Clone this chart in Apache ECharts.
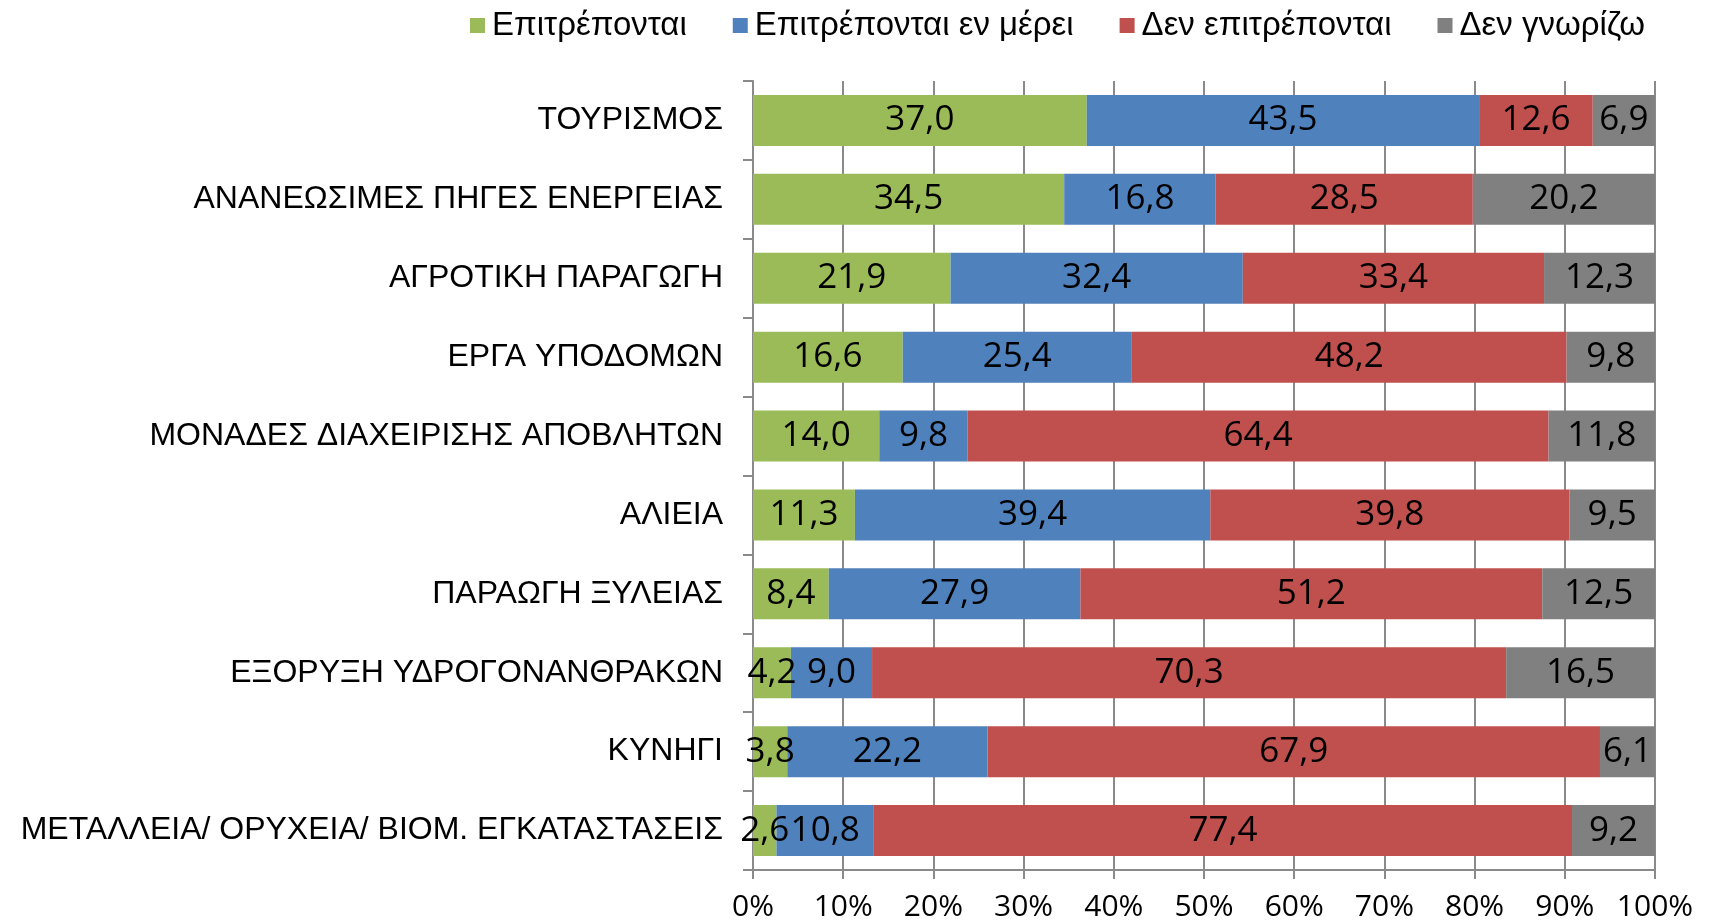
<!DOCTYPE html>
<html>
<head>
<meta charset="utf-8">
<script src="https://cdn.jsdelivr.net/npm/echarts@6/dist/echarts.min.js"></script>
<style>
html,body{margin:0;padding:0;background:#fff;}
#chart{width:1714px;height:922px;}
</style>
</head>
<body>
<div id="chart"></div>
<script>
var categories = ['ΤΟΥΡΙΣΜΟΣ','ΑΝΑΝΕΩΣΙΜΕΣ ΠΗΓΕΣ ΕΝΕΡΓΕΙΑΣ','ΑΓΡΟΤΙΚΗ ΠΑΡΑΓΩΓΗ','ΕΡΓΑ ΥΠΟΔΟΜΩΝ','ΜΟΝΑΔΕΣ ΔΙΑΧΕΙΡΙΣΗΣ ΑΠΟΒΛΗΤΩΝ','ΑΛΙΕΙΑ','ΠΑΡΑΩΓΗ ΞΥΛΕΙΑΣ','ΕΞΟΡΥΞΗ ΥΔΡΟΓΟΝΑΝΘΡΑΚΩΝ','ΚΥΝΗΓΙ','ΜΕΤΑΛΛΕΙΑ/ ΟΡΥΧΕΙΑ/ ΒΙΟΜ. ΕΓΚΑΤΑΣΤΑΣΕΙΣ'];
var seriesNames = ['Επιτρέπονται','Επιτρέπονται εν μέρει','Δεν επιτρέπονται','Δεν γνωρίζω'];
var allowed = [37.0,34.5,21.9,16.6,14.0,11.3,8.4,4.2,3.8,2.6];
var partly = [43.5,16.8,32.4,25.4,9.8,39.4,27.9,9.0,22.2,10.8];
var notAllowed = [12.6,28.5,33.4,48.2,64.4,39.8,51.2,70.3,67.9,77.4];
var dontKnow = [6.9,20.2,12.3,9.8,11.8,9.5,12.5,16.5,6.1,9.2];
var colors = ['#9BBB59','#4F81BD','#C0504D','#808080'];

var chart = echarts.init(document.getElementById('chart'), null, {renderer:'canvas'});
var dataSets = [allowed, partly, notAllowed, dontKnow];
var series = dataSets.map(function(d, i){
  return {
    name: seriesNames[i],
    type: 'bar',
    stack: 'total',
    barWidth: 51,
    data: d,
    itemStyle: {color: colors[i]},
    label: {
      show: true,
      position: 'inside',
      color: '#000',
      fontFamily: 'Open Sans',
      fontSize: 35,
      formatter: function(p){ return p.value.toFixed(1).replace('.', ','); }
    },
    emphasis: {disabled: true}
  };
});

chart.setOption({
  animation: false,
  legend: {
    left: 465,
    top: 4,
    itemWidth: 15,
    itemHeight: 15,
    itemGap: 46,
    icon: 'rect',
    textStyle: {fontFamily: 'Liberation Sans', fontSize: 33, color: '#000', padding: [0,0,0,2]},
    data: seriesNames
  },
  grid: {left: 753, right: 59, top: 81, bottom: 51, containLabel: false},
  xAxis: {
    type: 'value',
    min: 0, max: 100, interval: 10,
    axisLine: {show: true, lineStyle: {color: '#8a8a8a', width: 2}},
    axisTick: {show: true, length: 9, lineStyle: {color: '#8a8a8a', width: 2}},
    splitLine: {show: true, lineStyle: {color: '#8a8a8a', width: 2}},
    axisLabel: {formatter: '{value}%', fontFamily: 'Open Sans', fontSize: 30, color: '#000', margin: 22}
  },
  yAxis: {
    type: 'category',
    inverse: true,
    data: categories,
    axisLine: {show: true, lineStyle: {color: '#8a8a8a', width: 2}},
    axisTick: {show: true, length: 10, lineStyle: {color: '#8a8a8a', width: 2}},
    axisLabel: {fontFamily: 'Liberation Sans', fontSize: 32, color: '#000', margin: 30}
  },
  series: series
});
</script>
</body>
</html>
